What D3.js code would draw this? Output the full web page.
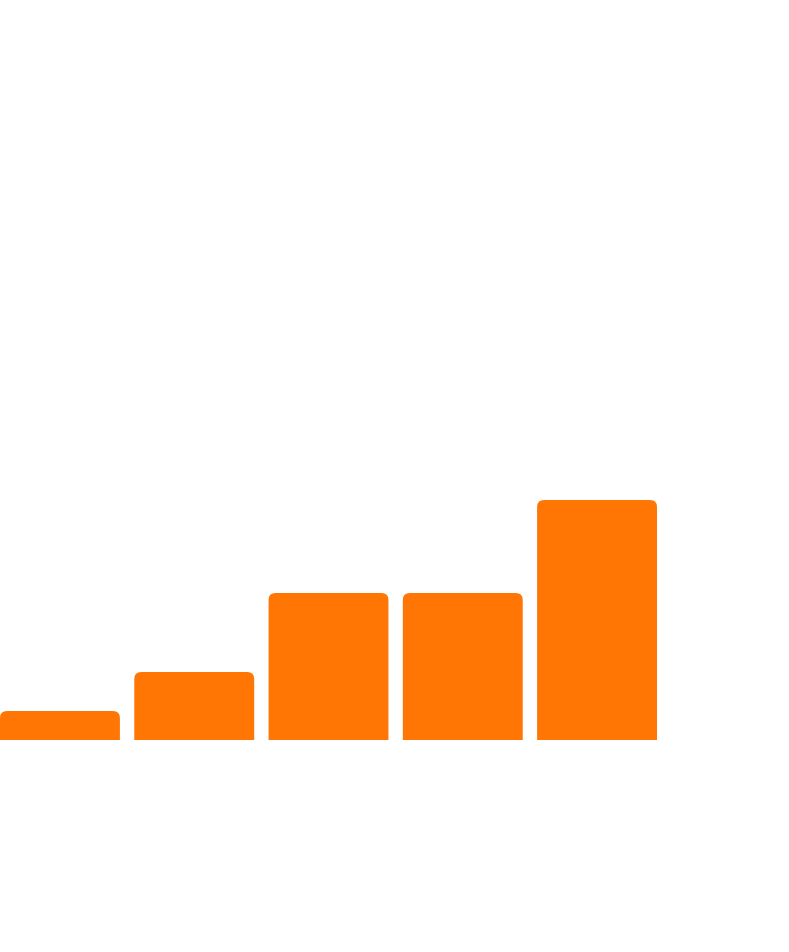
<!DOCTYPE html>
<html>
<head>
<meta charset="utf-8">
<script src="https://cdn.jsdelivr.net/npm/d3@7"></script>
<style>
    html, body { margin: 0; padding: 0; background: #ffffff; }
    svg { display: block; }
</style>
</head>
<body>
<svg id="canvas" width="789" height="952"></svg>
<script>
(() => {
    // Chart data.
    const CATEGORIES = ["A", "B", "C", "D", "E"];
    const VALUES = [2.9, 6.8, 14.7, 14.7, 24];
    const Y_DOMAIN = [0, 24];

    const BAR_COLOR = "#ff7605";
    const CORNER_RADIUS = 7;

    let canvas = d3.select("#canvas");

    // Plot area: bars run from the left edge, baseline at y = 740.
    let x = d3.scaleBand()
        .domain(CATEGORIES)
        .range([0, 657])
        .paddingInner(0.107)
        .paddingOuter(0);

    let y = d3.scaleLinear()
        .domain(Y_DOMAIN)
        .range([740, 500]);

    // Bar with rounded top corners only.
    function barPath(x0, y0, w, h) {
        let r = Math.min(CORNER_RADIUS, w / 2, h);
        return `M${x0},${y0 + h}` +
            `V${y0 + r}` +
            `Q${x0},${y0} ${x0 + r},${y0}` +
            `H${x0 + w - r}` +
            `Q${x0 + w},${y0} ${x0 + w},${y0 + r}` +
            `V${y0 + h}Z`;
    }

    let data = CATEGORIES.map((c, i) => ({ category: c, value: VALUES[i] }));

    canvas.append("g")
        .selectAll("path")
        .data(data)
        .enter()
        .append("path")
        .attr("fill", BAR_COLOR)
        .attr("d", d => barPath(
            x(d.category),
            y(d.value),
            x.bandwidth(),
            y(0) - y(d.value)
        ));
})();
</script>
</body>
</html>
